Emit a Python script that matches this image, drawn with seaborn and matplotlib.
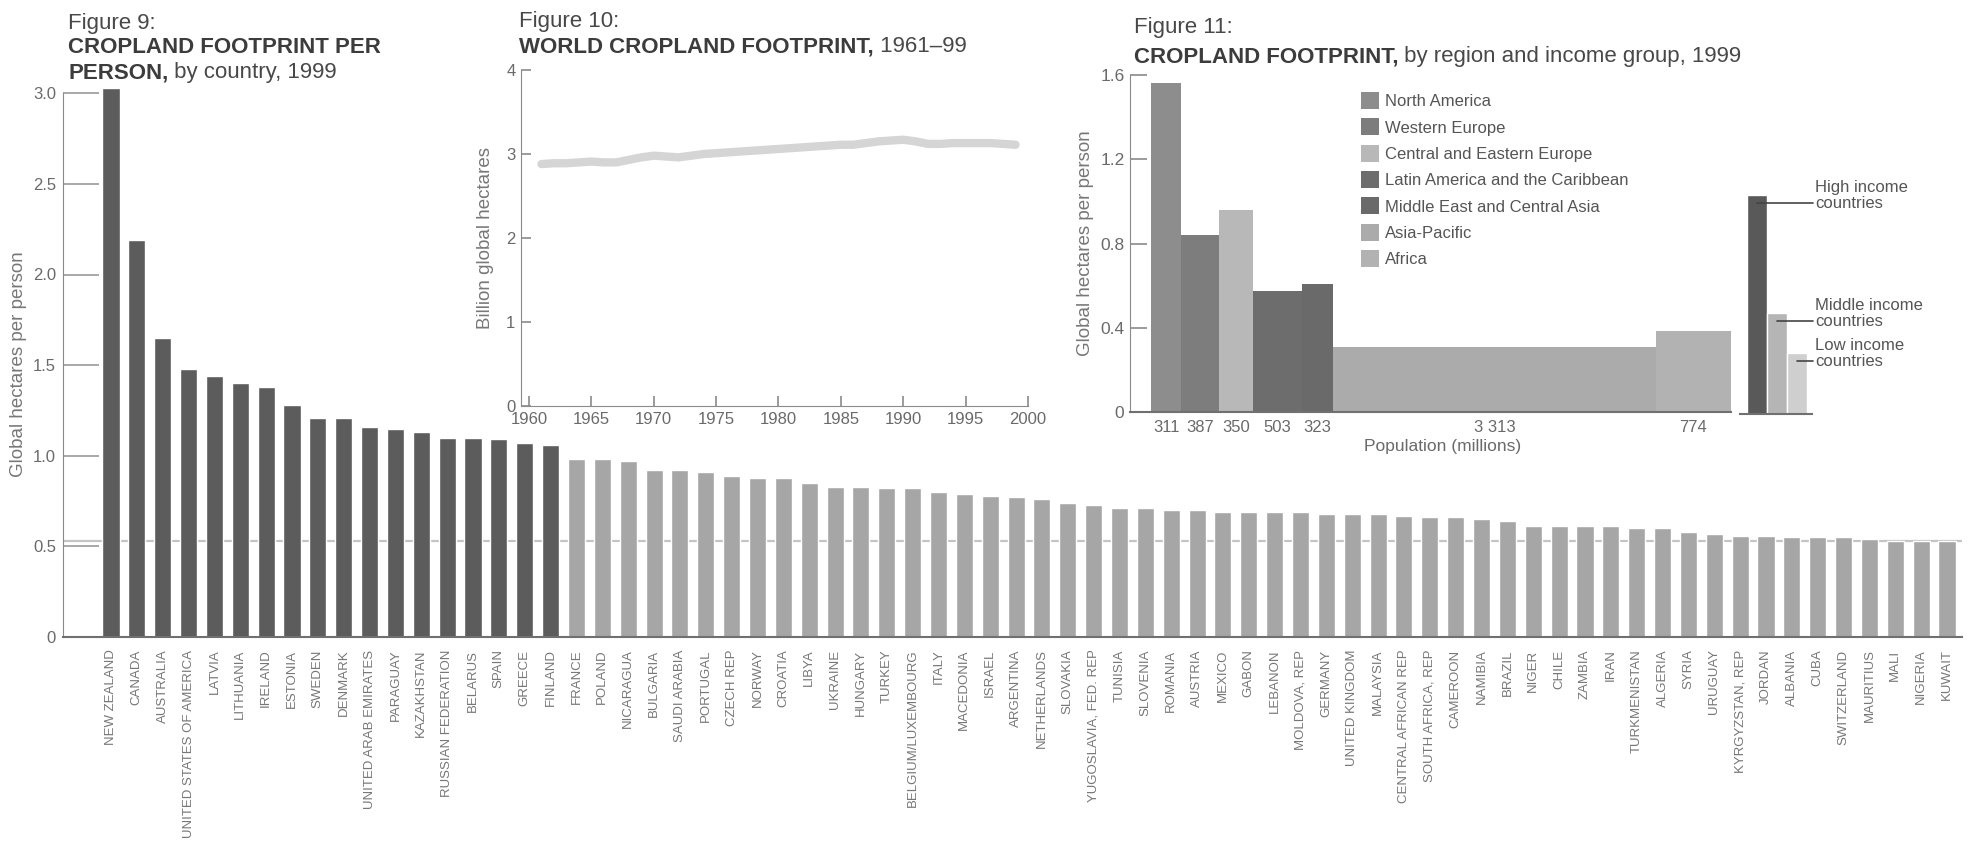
import numpy as np
import pandas as pd
import matplotlib
matplotlib.use('Agg')
import matplotlib.pyplot as plt
import matplotlib.transforms as mtrans
from matplotlib.patches import Patch
import seaborn as sns

# Figure 9 data: cropland footprint per person, by country, 1999
countries = ['NEW ZEALAND', 'CANADA', 'AUSTRALIA', 'UNITED STATES OF AMERICA', 'LATVIA',
             'LITHUANIA', 'IRELAND', 'ESTONIA', 'SWEDEN', 'DENMARK', 'UNITED ARAB EMIRATES',
             'PARAGUAY', 'KAZAKHSTAN', 'RUSSIAN FEDERATION', 'BELARUS', 'SPAIN', 'GREECE',
             'FINLAND', 'FRANCE', 'POLAND', 'NICARAGUA', 'BULGARIA', 'SAUDI ARABIA', 'PORTUGAL',
             'CZECH REP', 'NORWAY', 'CROATIA', 'LIBYA', 'UKRAINE', 'HUNGARY', 'TURKEY',
             'BELGIUM/LUXEMBOURG', 'ITALY', 'MACEDONIA', 'ISRAEL', 'ARGENTINA', 'NETHERLANDS',
             'SLOVAKIA', 'YUGOSLAVIA, FED. REP', 'TUNISIA', 'SLOVENIA', 'ROMANIA', 'AUSTRIA',
             'MEXICO', 'GABON', 'LEBANON', 'MOLDOVA, REP', 'GERMANY', 'UNITED KINGDOM',
             'MALAYSIA', 'CENTRAL AFRICAN REP', 'SOUTH AFRICA, REP', 'CAMEROON', 'NAMIBIA',
             'BRAZIL', 'NIGER', 'CHILE', 'ZAMBIA', 'IRAN', 'TURKMENISTAN', 'ALGERIA', 'SYRIA',
             'URUGUAY', 'KYRGYZSTAN, REP', 'JORDAN', 'ALBANIA', 'CUBA', 'SWITZERLAND',
             'MAURITIUS', 'MALI', 'NIGERIA', 'KUWAIT']
footprint = [3.03, 2.19, 1.65, 1.48, 1.44, 1.40, 1.38, 1.28, 1.21, 1.21, 1.16,
             1.15, 1.13, 1.10, 1.10, 1.09, 1.07, 1.06, 0.98, 0.98, 0.97, 0.92,
             0.92, 0.91, 0.89, 0.88, 0.88, 0.85, 0.83, 0.83, 0.82, 0.82, 0.80,
             0.79, 0.78, 0.77, 0.76, 0.74, 0.73, 0.71, 0.71, 0.70, 0.70, 0.69,
             0.69, 0.69, 0.69, 0.68, 0.68, 0.68, 0.67, 0.66, 0.66, 0.65, 0.64,
             0.61, 0.61, 0.61, 0.61, 0.60, 0.60, 0.58, 0.57, 0.56, 0.56, 0.55,
             0.55, 0.55, 0.54, 0.53, 0.53, 0.53]
world_average = 0.53

# Figure 10 data: world cropland footprint, billion gha
years = list(range(1961, 2000))
world_total = [2.88, 2.89, 2.89, 2.90, 2.91, 2.90, 2.90, 2.93, 2.96, 2.98,
               2.97, 2.96, 2.98, 3.00, 3.01, 3.02, 3.03, 3.04, 3.05, 3.06,
               3.07, 3.08, 3.09, 3.10, 3.11, 3.11, 3.13, 3.15, 3.16, 3.17,
               3.15, 3.12, 3.12, 3.13, 3.13, 3.13, 3.13, 3.12, 3.11]

# Figure 11 data: by region and income group
regions = ['North America', 'Western Europe', 'Central and Eastern Europe',
           'Latin America and the Caribbean', 'Middle East and Central Asia',
           'Asia-Pacific', 'Africa']
region_pop = [311, 387, 350, 503, 323, 3313, 774]
region_pop_labels = ['311', '387', '350', '503', '323', '3 313', '774']
region_fp = [1.56, 0.84, 0.96, 0.575, 0.61, 0.31, 0.385]
income_groups = ['High income\ncountries', 'Middle income\ncountries', 'Low income\ncountries']
income_fp = [1.04, 0.48, 0.29]

region_colors = ['#8d8d8d', '#7d7d7d', '#b8b8b8', '#6d6d6d', '#6a6a6a', '#ababab', '#b2b2b2']
income_colors = ['#595959', '#b5b5b5', '#cfcfcf']

sns.set_style('white')
plt.rcParams['font.family'] = ['Liberation Sans', 'DejaVu Sans']

W, H = 1986, 844
def fx(x):
    return x / W
def fy(y):
    return 1 - y / H

fig = plt.figure(figsize=(W / 100, H / 100), dpi=100)
title_col = '#484848'
text_col = '#6a6a6a'
axis_col = '#8a8a8a'

# ---------------- Figure 9 ----------------
ax9 = fig.add_axes([fx(63), fy(637), fx(1962) - fx(63), fy(86) - fy(637)])
ax9.patch.set_visible(False)
df = pd.DataFrame({'country': countries, 'fp': footprint})
df['band'] = np.where(df['fp'] > 1.0, 'high', 'low')
ax9.axhline(world_average, color='#c4c4c4', lw=1.6, zorder=0)
sns.barplot(data=df, x='country', y='fp', hue='band', order=countries,
            palette={'high': '#5c5c5c', 'low': '#a6a6a6'}, dodge=False, width=0.66,
            saturation=1, errorbar=None, legend=False, ax=ax9, zorder=2)
ax9.set_xlim(-1.856, 71.58)
ax9.set_ylim(0, 3.04)
ax9.set_xlabel('')
ax9.set_ylabel('')
ax9.set_yticks([0, 0.5, 1.0, 1.5, 2.0, 2.5, 3.0])
ax9.set_yticklabels(['0', '0.5', '1.0', '1.5', '2.0', '2.5', '3.0'])
ax9.tick_params(axis='y', left=True, direction='in', length=26, width=1.2, color='#999999',
                labelsize=12, labelcolor=text_col, pad=5)
ax9.set_xticks(range(len(countries)))
ax9.set_xticklabels(countries, rotation=90, fontsize=9.5, color='#777777')
ax9.tick_params(axis='x', length=0, pad=9)
for s in ['top', 'right']:
    ax9.spines[s].set_visible(False)
ax9.spines['left'].set_bounds(0, 3.0)
ax9.spines['left'].set_color(axis_col)
ax9.spines['bottom'].set_color('#707070')
ax9.spines['bottom'].set_linewidth(1.5)
fig.text(fx(19), fy(364), 'Global hectares per person', rotation=90, ha='center',
         va='center', fontsize=13.5, color='#777777')

# ---------------- Figure 10 ----------------
ax10 = fig.add_axes([fx(521), fy(406), fx(1028) - fx(521), fy(70) - fy(406)])
ax10.patch.set_visible(False)
sns.lineplot(x=years, y=world_total, ax=ax10, color='#d5d5d5', lw=6)
ax10.set_xlim(1959.36, 2000)
ax10.set_ylim(0, 4)
ax10.set_xticks(range(1960, 2001, 5))
ax10.set_yticks([0, 1, 2, 3, 4])
ax10.tick_params(left=True, bottom=True, direction='in', length=7, width=1.2, color=axis_col,
                 labelsize=12, labelcolor=text_col, pad=4)
for s in ['top', 'right']:
    ax10.spines[s].set_visible(False)
for s in ['left', 'bottom']:
    ax10.spines[s].set_color(axis_col)
fig.text(fx(486), fy(238), 'Billion global hectares', rotation=90, ha='center',
         va='center', fontsize=13.5, color='#777777')

# ---------------- Figure 11 ----------------
ax11 = fig.add_axes([fx(1130), fy(412), fx(1731) - fx(1130), fy(75) - fy(412)])
ax11.patch.set_visible(False)
lefts = np.concatenate([[0], np.cumsum(region_pop)[:-1]])
centers = lefts + np.array(region_pop) / 2
ax11.bar(lefts, region_fp, width=region_pop, align='edge', color=region_colors, linewidth=0)
ax11.set_xlim(-216, sum(region_pop))
ax11.set_ylim(0, 1.6)
ax11.set_yticks([0, 0.4, 0.8, 1.2, 1.6])
ax11.set_yticklabels(['0', '0.4', '0.8', '1.2', '1.6'])
ax11.set_xticks(centers)
ax11.set_xticklabels(region_pop_labels)
ax11.tick_params(axis='y', left=True, direction='in', length=12, width=1.2, color=axis_col,
                 labelsize=12.5, labelcolor=text_col, pad=4)
ax11.tick_params(axis='x', length=0, labelsize=12, labelcolor=text_col, pad=6)
for s in ['top', 'right']:
    ax11.spines[s].set_visible(False)
ax11.spines['left'].set_color(axis_col)
ax11.spines['bottom'].set_color('#707070')
ax11.spines['bottom'].set_linewidth(1.5)
fig.text(fx(1086), fy(243), 'Global hectares per person', rotation=90, ha='center',
         va='center', fontsize=13.5, color='#777777')
fig.text(fx(1443), fy(447), 'Population (millions)', ha='center', va='center',
         fontsize=12.5, color=text_col)
handles = [Patch(facecolor=c, edgecolor='none', label=r) for r, c in zip(regions, region_colors)]
ax11.legend(handles=handles, loc='upper left', bbox_to_anchor=(fx(1361), fy(92)),
            bbox_transform=fig.transFigure, frameon=False, fontsize=12,
            handlelength=1.1, handleheight=1.2, handletextpad=0.35, labelspacing=0.55,
            borderpad=0, borderaxespad=0, labelcolor='#555555')

# income group bars
ax_inc = fig.add_axes([fx(1740), fy(414), fx(1812) - fx(1740), fy(77) - fy(414)])
ax_inc.patch.set_visible(False)
sns.barplot(x=income_groups, y=income_fp, hue=income_groups, palette=income_colors,
            width=1.0, saturation=1, legend=False, ax=ax_inc)
ax_inc.set_xlim(-0.85, 2.75)
ax_inc.set_ylim(0, 1.6)
ax_inc.set_xticks([])
ax_inc.set_yticks([])
ax_inc.set_xlabel('')
ax_inc.set_ylabel('')
for s in ['top', 'right', 'left']:
    ax_inc.spines[s].set_visible(False)
ax_inc.spines['bottom'].set_color('#707070')
ax_inc.spines['bottom'].set_linewidth(1.5)
text_shift = mtrans.offset_copy(ax_inc.transData, fig=fig, x=0, y=-5, units='dots')
for i, (name, v) in enumerate(zip(income_groups, income_fp)):
    yl = v - 0.04
    ax_inc.plot([i, 2.8], [yl, yl], color='#444444', lw=1.2, clip_on=False)
    ax_inc.text(2.9, yl, name, transform=text_shift, ha='left', va='baseline',
                fontsize=12, color='#555555', linespacing=1.15)

# ---------------- titles ----------------
def title(x, y1, y2, head, bold, rest):
    fig.text(fx(x), fy(y1), head, fontsize=16, color=title_col, va='baseline')
    t = fig.text(fx(x), fy(y2), bold, fontsize=16, weight='bold', color='#3c3c3c',
                 va='baseline')
    ax9.annotate(rest, xy=(1, 0), xycoords=t, ha='left', va='bottom', fontsize=16,
                 color=title_col, annotation_clip=False)

fig.text(fx(68), fy(29), 'Figure 9:', fontsize=16, color=title_col, va='baseline')
fig.text(fx(68), fy(53), 'CROPLAND FOOTPRINT PER', fontsize=16, weight='bold',
         color='#3c3c3c', va='baseline')
t9 = fig.text(fx(68), fy(78), 'PERSON,', fontsize=16, weight='bold', color='#3c3c3c',
              va='baseline')
ax9.annotate(' by country, 1999', xy=(1, 0), xycoords=t9, ha='left', va='bottom',
             fontsize=16, color=title_col, annotation_clip=False)
title(519, 27, 52, 'Figure 10:', 'WORLD CROPLAND FOOTPRINT,', ' 1961\u201399')
title(1134, 33, 62, 'Figure 11:', 'CROPLAND FOOTPRINT,', ' by region and income group, 1999')

fig.savefig('out.png', dpi=100)
